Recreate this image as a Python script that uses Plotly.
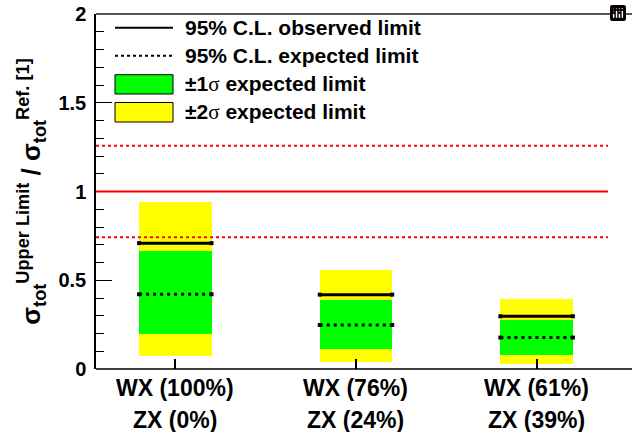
import plotly.graph_objects as go

# ---- data ----
categories = ["WX (100%)<br>ZX (0%)", "WX (76%)<br>ZX (24%)", "WX (61%)<br>ZX (39%)"]
cat_pos = [1, 2, 3]
observed = [0.709, 0.419, 0.297]
expected = [0.421, 0.248, 0.177]
band1_lo = [0.198, 0.113, 0.081]
band1_hi = [0.666, 0.390, 0.276]
band2_lo = [0.074, 0.041, 0.030]
band2_hi = [0.942, 0.558, 0.394]
ref_value = 1.0
ref_unc_lo = 0.742
ref_unc_hi = 1.258
y_title = "σ<sub>tot</sub><sup>Upper Limit</sup> / σ<sub>tot</sub><sup>Ref. [1]</sup>"

# ---- geometry helpers (pixel -> paper) ----
W, H = 632, 432
L, R, T, B = 96, 24, 14, 63
PW, PH = W - L - R, H - T - B


def px(x):
    return (x - L) / PW


def py(y):
    return (H - B - y) / PH


FONT = "Liberation Sans"
BAR_W = 0.401
HW = BAR_W / 2

fig = go.Figure()

fig.add_trace(go.Bar(
    x=cat_pos, base=band2_lo, y=[h - l for h, l in zip(band2_hi, band2_lo)],
    width=BAR_W, marker=dict(color="#ffff00", line=dict(width=0)), showlegend=False,
))
fig.add_trace(go.Bar(
    x=cat_pos, base=band1_lo, y=[h - l for h, l in zip(band1_hi, band1_lo)],
    width=BAR_W, marker=dict(color="#00ff00", line=dict(width=0)), showlegend=False,
))


def segs(vals):
    xs, ys = [], []
    for c, v in zip(cat_pos, vals):
        xs += [c - HW, c + HW, None]
        ys += [v, v, None]
    return xs, ys


xo, yo = segs(observed)
fig.add_trace(go.Scatter(x=xo, y=yo, mode="lines+markers",
                         line=dict(color="black", width=3),
                         marker=dict(symbol="square", size=4, color="black"),
                         showlegend=False))
xe, ye = segs(expected)
fig.add_trace(go.Scatter(x=xe, y=ye, mode="lines+markers",
                         line=dict(color="black", width=3, dash="3px,4px"),
                         marker=dict(symbol="square", size=4, color="black"),
                         showlegend=False))

shapes = []
# reference lines
shapes.append(dict(type="line", xref="paper", yref="y", x0=0, x1=1, y0=ref_value, y1=ref_value,
                   line=dict(color="#ff0000", width=2)))
for v in (ref_unc_lo, ref_unc_hi):
    shapes.append(dict(type="line", xref="paper", yref="y", x0=0, x1=1, y0=v, y1=v,
                       line=dict(color="#ff0000", width=2, dash="3px,3px")))
# frame lines
shapes.append(dict(type="line", xref="paper", yref="paper", x0=0, x1=px(632), y0=1, y1=1,
                   line=dict(color="#555555", width=2)))
shapes.append(dict(type="line", xref="paper", yref="paper", x0=0, x1=px(632), y0=0, y1=0,
                   line=dict(color="black", width=1.5)))

# legend
lx0, lx1 = px(115), px(173)
shapes.append(dict(type="line", xref="paper", yref="paper", x0=lx0, x1=lx1, y0=py(27.7), y1=py(27.7),
                   line=dict(color="black", width=2)))
shapes.append(dict(type="line", xref="paper", yref="paper", x0=lx0, x1=lx1, y0=py(55.7), y1=py(55.7),
                   line=dict(color="black", width=2, dash="3px,3px")))
shapes.append(dict(type="rect", xref="paper", yref="paper", x0=lx0, x1=lx1, y0=py(94), y1=py(74.7),
                   fillcolor="#00ff00", line=dict(color="black", width=1)))
shapes.append(dict(type="rect", xref="paper", yref="paper", x0=lx0, x1=lx1, y0=py(122), y1=py(102.5),
                   fillcolor="#ffff00", line=dict(color="black", width=1)))

annotations = []
leg_texts = [
    ("<b>95% C.L. observed limit</b>", 27.7),
    ("<b>95% C.L. expected limit</b>", 55.7),
    ("<b>±1</b><span style='font-family:Liberation Serif'>σ</span><b> expected limit</b>", 84.3),
    ("<b>±2</b><span style='font-family:Liberation Serif'>σ</span><b> expected limit</b>", 112.3),
]
for t, yy in leg_texts:
    annotations.append(dict(text=t, xref="paper", yref="paper", x=px(183), y=py(yy),
                            xanchor="left", yanchor="middle", showarrow=False,
                            font=dict(family=FONT, size=21, color="black")))

# x category labels
for c, lab in zip(cat_pos, categories):
    top, bot = lab.split("<br>")
    annotations.append(dict(text="<b>" + top + "</b>", xref="x", yref="paper", x=c, y=py(388),
                            xanchor="center", yanchor="middle", showarrow=False,
                            font=dict(family=FONT, size=23, color="black")))
    annotations.append(dict(text="<b>" + bot + "</b>", xref="x", yref="paper", x=c, y=py(420),
                            xanchor="center", yanchor="middle", showarrow=False,
                            font=dict(family=FONT, size=23, color="black")))

fig.update_layout(
    width=W, height=H,
    margin=dict(l=L, r=R, t=T, b=B, pad=0, autoexpand=False),
    paper_bgcolor="white", plot_bgcolor="white",
    barmode="overlay", bargap=0,
    showlegend=False,
    modebar=dict(bgcolor="rgba(0,0,0,0)", color="rgba(0,0,0,0)", activecolor="rgba(0,0,0,0)"),
    shapes=shapes, annotations=annotations,
    xaxis=dict(range=[0.561, 3.395], tickvals=cat_pos,
               showticklabels=False, ticks="inside", ticklen=10, tickwidth=1.5, tickcolor="black",
               showgrid=False, zeroline=False, showline=False, automargin=False),
    yaxis=dict(range=[0, 2], tickvals=[0, 0.5, 1, 1.5, 2], ticktext=["<b>0</b>", "<b>0.5</b>", "<b>1</b>", "<b>1.5</b>", "<b>2</b>"],
               ticks="inside", ticklen=16, tickwidth=1.2, tickcolor="black",
               minor=dict(dtick=0.1, ticks="inside", ticklen=8, tickwidth=1, tickcolor="black", showgrid=False),
               showgrid=False, zeroline=False, showline=True, linecolor="black", linewidth=1.5,
               tickfont=dict(family=FONT, size=20, color="black"), ticklabelstandoff=4, automargin=False,
               title=dict(text="<b>" + y_title + "</b>", standoff=10,
                          font=dict(family=FONT, size=26, color="black"))),
)

fig.write_html("out.html",
               post_script="document.body.style.margin='0';document.body.style.padding='0';")
